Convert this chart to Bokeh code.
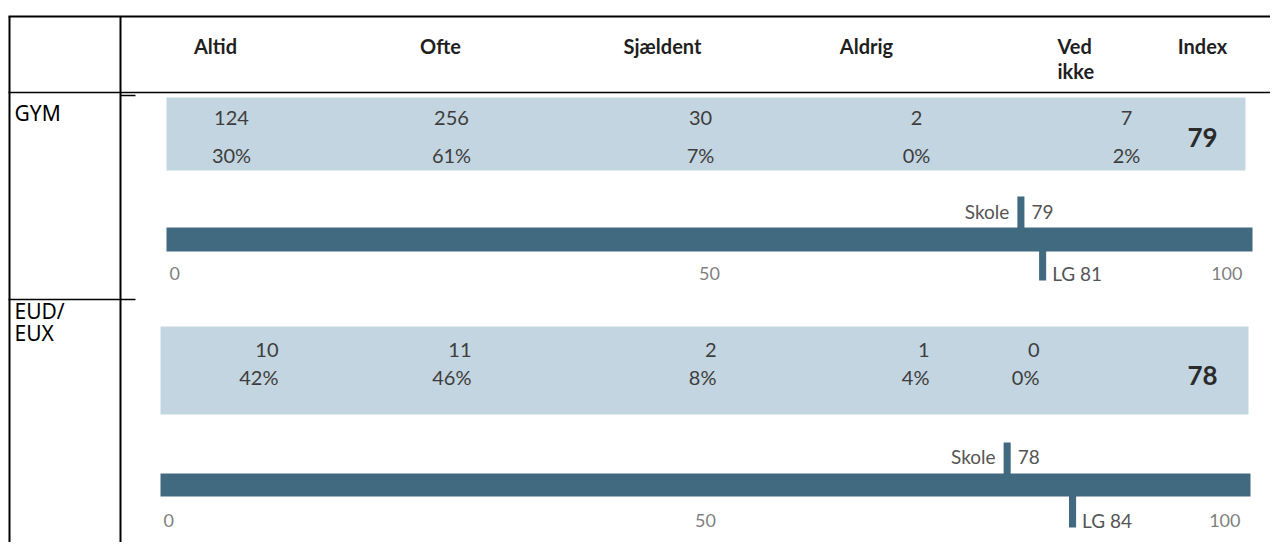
from bokeh.plotting import figure
from bokeh.models import Range1d, ColumnDataSource
from bokeh.core.properties import value
from bokeh.embed import file_html
from bokeh.resources import INLINE

# ---------------- data ----------------
columns = ["Altid", "Ofte", "Sjældent", "Aldrig", "Ved ikke"]
index_label = "Index"
row_labels = ["GYM", "EUD/ EUX"]
gym_counts = [124, 256, 30, 2, 7]
gym_pcts = [30, 61, 7, 0, 2]
gym_index = 79
gym_skole = 79
gym_lg = 81
eud_counts = [10, 11, 2, 1, 0]
eud_pcts = [42, 46, 8, 4, 0]
eud_index = 78
eud_skole = 78
eud_lg = 84
scale_ticks = [0, 50, 100]
scale_min, scale_max = 0, 100
skole_label = "Skole"
lg_label = "LG"

# ---------------- layout (pixels) ----------------
FRAME_W, FRAME_H = 1270, 542

header_x = [215, 440, 662, 866, 1057]
header_y = [45, 70]
index_x = 1202

panels = [
    dict(counts=gym_counts, pcts=gym_pcts, index=gym_index, skole=gym_skole, lg=gym_lg,
         px0=166, px100=1252, box=(166, 1245, 97, 170),
         col_x=[231, 451, 700, 916, 1126], col_align="center",
         count_y=117, pct_y=154, index_y=137,
         bar=(227, 251), skole_top=196, lg_bottom=280, upper_y=211, lower_y=273,
         label_y=112),
    dict(counts=eud_counts, pcts=eud_pcts, index=eud_index, skole=eud_skole, lg=eud_lg,
         px0=160, px100=1250, box=(160, 1248, 326, 414),
         col_x=[278, 471, 716, 929, 1039], col_align="right",
         count_y=349, pct_y=376, index_y=375,
         bar=(473, 496), skole_top=442, lg_bottom=527, upper_y=456, lower_y=520,
         label_y=310),
]

LIGHT = "#C3D5E0"
DARK = "#416A80"
NUM_COLOR = "#3d3d3d"
AXIS_COLOR = "#7f7f7f"
MARK_TEXT = "#555555"
NUM_FONT = value("Lato")

p = figure(width=FRAME_W, height=FRAME_H,
           x_range=Range1d(0, FRAME_W), y_range=Range1d(FRAME_H, 0),
           toolbar_location=None, output_backend="svg", min_border=0)
p.axis.visible = False
p.grid.visible = False
p.outline_line_color = None
p.background_fill_color = "white"
p.border_fill_color = "white"

# table frame lines
p.segment(x0=[8, 9, 120], y0=[16, 16, 16], x1=[1270, 9, 120], y1=[16, 542, 542],
          line_color="black", line_width=2)
p.segment(x0=[8, 120, 8], y0=[92, 95, 299], x1=[1270, 135, 135], y1=[92, 95, 299],
          line_color="black", line_width=1.6)

# header labels
hx, hy, ht, ha = [], [], [], []
for x, lab in zip(header_x, columns):
    words = lab.split(" ")
    if len(words) == 1:
        hx.append(x); hy.append(header_y[0]); ht.append(lab); ha.append("center")
    else:
        for k, w in enumerate(words):
            hx.append(x); hy.append(header_y[k]); ht.append(w); ha.append("left")
hx.append(index_x); hy.append(header_y[0]); ht.append(index_label); ha.append("center")
p.text(x="x", y="y", text="t", text_align="a",
       source=ColumnDataSource(dict(x=hx, y=hy, t=ht, a=ha)),
       text_font=NUM_FONT, text_font_style="bold", text_font_size=value("20px"),
       text_color="#1f1f1f", text_baseline="middle")

for i, pan in enumerate(panels):
    rname = f"panel{i}"
    span = (scale_max - scale_min) * FRAME_W / (pan["px100"] - pan["px0"])
    start = scale_min - pan["px0"] / FRAME_W * span
    p.extra_x_ranges[rname] = Range1d(start, start + span)

    # row label
    words = row_labels[i].split(" ")
    p.text(x=[14] * len(words), y=[pan["label_y"] + 22 * k for k in range(len(words))],
           text=words, text_font=value("Noto Sans"), text_font_size=value("21px"),
           text_color="black", text_baseline="middle", text_align="left")

    # light box
    bl, br, bt, bb = pan["box"]
    p.quad(left=[bl], right=[br], top=[bt], bottom=[bb],
           fill_color=LIGHT, line_color=None)
    # dark scale bar
    p.quad(left=[scale_min], right=[scale_max], bottom=[pan["bar"][1]], top=[pan["bar"][0]],
           fill_color=DARK, line_color=None, x_range_name=rname)

    # counts and percents
    src = ColumnDataSource(dict(x=pan["col_x"],
                                c=[str(v) for v in pan["counts"]],
                                pc=[f"{v}%" for v in pan["pcts"]]))
    p.text(x="x", y=pan["count_y"], text="c", source=src, text_align=pan["col_align"],
           text_baseline="middle", text_font=NUM_FONT, text_font_size=value("20px"),
           text_color=NUM_COLOR)
    p.text(x="x", y=pan["pct_y"], text="pc", source=src, text_align=pan["col_align"],
           text_baseline="middle", text_font=NUM_FONT, text_font_size=value("20px"),
           text_color=NUM_COLOR)
    # index
    p.text(x=[index_x], y=[pan["index_y"]], text=[str(pan["index"])], text_align="center",
           text_baseline="middle", text_font=NUM_FONT, text_font_style="bold",
           text_font_size=value("26px"), text_color="#2b2b2b")

    # markers
    mw = 0.65
    p.quad(left=[pan["skole"] - mw], right=[pan["skole"]], top=[pan["skole_top"]],
           bottom=[pan["bar"][0] + 4], fill_color=DARK, line_color=None, x_range_name=rname)
    p.quad(left=[pan["lg"] - mw], right=[pan["lg"]], top=[pan["bar"][1] - 1],
           bottom=[pan["lg_bottom"]], fill_color=DARK, line_color=None, x_range_name=rname)
    p.text(x=[pan["skole"] - mw], y=[pan["upper_y"]], text=[skole_label], x_offset=-8,
           text_align="right", text_baseline="middle", text_font=NUM_FONT,
           text_font_size=value("19px"), text_color=MARK_TEXT, x_range_name=rname)
    p.text(x=[pan["skole"]], y=[pan["upper_y"]], text=[str(pan["skole"])], x_offset=7,
           text_align="left", text_baseline="middle", text_font=NUM_FONT,
           text_font_size=value("19px"), text_color=MARK_TEXT, x_range_name=rname)
    p.text(x=[pan["lg"]], y=[pan["lower_y"]], text=[f"{lg_label} {pan['lg']}"], x_offset=6,
           text_align="left", text_baseline="middle", text_font=NUM_FONT,
           text_font_size=value("19px"), text_color=MARK_TEXT, x_range_name=rname)

    # scale tick labels
    aligns = ["left" if t == scale_min else ("right" if t == scale_max else "center")
              for t in scale_ticks]
    offs = [3 if t == scale_min else (-10 if t == scale_max else 0) for t in scale_ticks]
    p.text(x="x", y=pan["lower_y"], text="t", text_align="a", x_offset="o",
           source=ColumnDataSource(dict(x=scale_ticks, t=[str(t) for t in scale_ticks],
                                        a=aligns, o=offs)),
           text_baseline="middle", text_font=NUM_FONT, text_font_size=value("18px"),
           text_color=AXIS_COLOR, x_range_name=rname)

open("out.html", "w").write(file_html(p, INLINE))
